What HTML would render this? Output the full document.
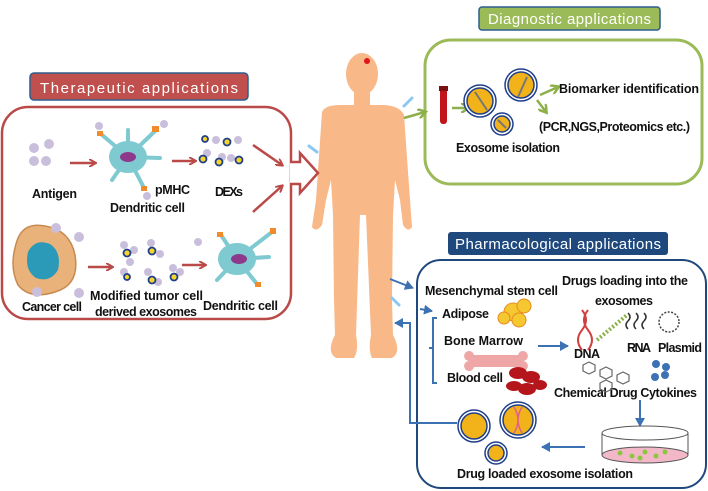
<!DOCTYPE html>
<html><head><meta charset="utf-8"><style>
html,body{margin:0;padding:0;background:#fff;}
svg{display:block;}
text{font-family:"Liberation Sans",sans-serif;}
.b{font-weight:bold;font-size:12.5px;fill:#111;}
.t{font-size:15px;fill:#fff;}
</style></head><body>
<svg width="708" height="491" viewBox="0 0 708 491" xmlns="http://www.w3.org/2000/svg">
<defs>
<marker id="ar" markerWidth="8" markerHeight="8" refX="6" refY="4" orient="auto" markerUnits="userSpaceOnUse"><path d="M0,0 L7,4 L0,8" fill="none" stroke="#b94a48" stroke-width="2"/></marker>
<marker id="ag" markerWidth="10" markerHeight="10" refX="7" refY="5" orient="auto" markerUnits="userSpaceOnUse"><path d="M0,0 L8,5 L0,10" fill="none" stroke="#8db04a" stroke-width="2.5"/></marker>
<marker id="ab" markerWidth="10" markerHeight="10" refX="8" refY="5" orient="auto" markerUnits="userSpaceOnUse"><path d="M0,0 L9,5 L0,10 Z" fill="#3c72b4"/></marker>
</defs>

<!-- human body -->
<g fill="#f8b888">
<ellipse cx="362" cy="74" rx="16" ry="21"/>
<rect x="354" y="88" width="16" height="20"/>
<path d="M322,112 Q325,105 340,105 L384,105 Q400,106 404,115 L410,200 Q411,215 412,227 Q408,233 403,225 L400,200 L395,180 L393,215 L392,300 L393,335 Q402,352 392,358 L372,358 Q368,350 371,335 L366,215 L360,215 L356,335 Q359,350 354,358 L336,358 Q326,352 335,335 L334,300 L333,215 L331,180 L326,200 L322,225 Q316,233 312,227 L316,200 Z"/>
</g>
<circle cx="367" cy="61" r="3" fill="#e0161b"/>
<!-- syringes -->
<g stroke="#8cc8ef" stroke-width="3" stroke-linecap="round"><line x1="404" y1="106" x2="412" y2="98"/><line x1="309" y1="146" x2="317" y2="152"/><line x1="392" y1="298" x2="399" y2="305"/></g>

<!-- Therapeutic -->
<rect x="30" y="73" width="218" height="27" rx="4" fill="#c0504d" stroke="#2e5d8e" stroke-width="1.5"/>
<text class="t" x="40" y="93" textLength="198">Therapeutic applications</text>
<rect x="2" y="107" width="289" height="212" rx="26" fill="#fff" stroke="#b94a48" stroke-width="2.5"/>
<path d="M290,162 L300,162 L300,153 L318,173 L300,193 L300,184 L290,184" fill="#fff" stroke="#b94a48" stroke-width="2.5"/>
<g fill="#c9bfdc"><circle cx="34" cy="148" r="5"/><circle cx="49" cy="144" r="5"/><circle cx="34" cy="161" r="5"/><circle cx="46" cy="161" r="5"/></g>
<g stroke="#b94a48" stroke-width="2.5" marker-end="url(#ar)"><line x1="70" y1="163" x2="95" y2="163"/><line x1="172" y1="161" x2="195" y2="161"/><line x1="253" y1="145" x2="282" y2="165"/><line x1="253" y1="212" x2="282" y2="186"/><line x1="88" y1="267" x2="112" y2="267"/><line x1="182" y1="265" x2="205" y2="265"/></g>
<g stroke="#7fcad0" stroke-width="4" stroke-linecap="round" fill="#7fcad0">
<line x1="128" y1="157" x2="101" y2="134"/><line x1="128" y1="157" x2="155" y2="131"/><line x1="128" y1="157" x2="143" y2="186"/><line x1="128" y1="157" x2="112" y2="180"/><line x1="128" y1="157" x2="160" y2="158"/><line x1="128" y1="157" x2="128" y2="130"/>
<ellipse cx="128" cy="157" rx="17" ry="14"/>
</g>
<ellipse cx="128" cy="157" rx="8" ry="5" fill="#8e3a8c"/>
<g fill="#f08c2c"><rect x="97" y="131" width="6" height="5"/><rect x="152" y="126" width="7" height="6"/><rect x="141" y="186" width="6" height="5"/></g>
<g fill="#c9bfdc"><circle cx="99" cy="126" r="4"/><circle cx="164" cy="124" r="4"/><circle cx="147" cy="196" r="4"/></g>
<g transform="translate(109,102)">
<g stroke="#7fcad0" stroke-width="4" stroke-linecap="round" fill="#7fcad0"><line x1="128" y1="157" x2="112" y2="133"/><line x1="128" y1="157" x2="163" y2="130"/><line x1="128" y1="157" x2="148" y2="182"/><line x1="128" y1="157" x2="108" y2="178"/><line x1="128" y1="157" x2="160" y2="155"/><ellipse cx="128" cy="157" rx="17" ry="14"/></g>
<ellipse cx="130" cy="157" rx="8" ry="5" fill="#8e3a8c"/>
<g fill="#f08c2c"><rect x="108" y="130" width="6" height="5"/><rect x="161" y="126" width="6" height="6"/><rect x="146" y="180" width="6" height="5"/></g>
</g>
<g fill="#c9bfdc"><circle cx="216" cy="140" r="4"/><circle cx="238" cy="140" r="4"/><circle cx="207" cy="153" r="4"/><circle cx="222" cy="157" r="4"/><circle cx="231" cy="158" r="4"/></g>
<g fill="#f6d52b" stroke="#1f3f8a" stroke-width="1.8"><circle cx="205" cy="139" r="3"/><circle cx="227" cy="142" r="3.5"/><circle cx="203" cy="159" r="3.5"/><circle cx="219" cy="162" r="3.5"/><circle cx="239" cy="160" r="3.5"/></g>
<path d="M18,238 Q25,222 45,226 Q70,230 75,255 Q80,285 55,292 Q30,300 18,285 Q8,265 18,238Z" fill="#e8b27a" stroke="#c88a4f" stroke-width="1.5"/>
<path d="M28,252 Q35,238 50,244 Q62,252 58,270 Q50,283 36,278 Q24,270 28,252Z" fill="#2a9ab8"/>
<g fill="#c9bfdc"><circle cx="56" cy="228" r="5"/><circle cx="79" cy="237" r="5"/><circle cx="37" cy="292" r="5"/><circle cx="79" cy="293" r="5"/></g>
<g fill="#c9bfdc"><circle cx="124" cy="245" r="4"/><circle cx="134" cy="250" r="4"/><circle cx="151" cy="243" r="4"/><circle cx="160" cy="254" r="4"/><circle cx="130" cy="262" r="4"/><circle cx="148" cy="272" r="4"/><circle cx="180" cy="272" r="4"/><circle cx="173" cy="268" r="4"/><circle cx="124" cy="272" r="4"/><circle cx="198" cy="242" r="4"/><circle cx="158" cy="282" r="4"/></g>
<g fill="#f6d52b" stroke="#1f3f8a" stroke-width="1.8"><circle cx="127" cy="253" r="3.5"/><circle cx="152" cy="251" r="3.5"/><circle cx="127" cy="277" r="3"/><circle cx="152" cy="280" r="3.5"/><circle cx="174" cy="277" r="3.5"/></g>
<text class="b" x="32" y="198" textLength="45">Antigen</text>
<text class="b" x="155" y="194" textLength="35">pMHC</text>
<text class="b" x="110" y="212" textLength="75">Dendritic cell</text>
<text class="b" x="215" y="196" textLength="28">DEXs</text>
<text class="b" x="90" y="300" textLength="113">Modified tumor cell</text>
<text class="b" x="95" y="316" textLength="102">derived exosomes</text>
<text class="b" x="22" y="311" textLength="60">Cancer cell</text>
<text class="b" x="203" y="310" textLength="75">Dendritic cell</text>

<!-- Diagnostic -->
<rect x="479" y="7" width="181" height="23" rx="3" fill="#9bbb59" stroke="#2e5d8e" stroke-width="1.5"/>
<text class="t" x="488" y="24" textLength="163">Diagnostic applications</text>
<rect x="425" y="40" width="277" height="144" rx="26" fill="#fff" stroke="#9bbb59" stroke-width="3"/>
<line x1="404" y1="118" x2="425" y2="112" stroke="#8db04a" stroke-width="2.5" marker-end="url(#ag)"/>
<rect x="440" y="86" width="7" height="38" rx="3" fill="#c0151b"/><rect x="439" y="86" width="9" height="5" fill="#7a1010"/>
<line x1="452" y1="108" x2="468" y2="108" stroke="#8db04a" stroke-width="2.5" marker-end="url(#ag)"/>
<g fill="#f2b21a" stroke="#1f3f8a" stroke-width="1.5"><circle cx="480" cy="101" r="16" fill="#fff"/><circle cx="480" cy="101" r="13"/><circle cx="521" cy="85" r="16" fill="#fff"/><circle cx="521" cy="85" r="13"/><circle cx="502" cy="124" r="11" fill="#fff"/><circle cx="502" cy="124" r="8"/></g>
<g stroke="#777" stroke-width="2"><line x1="475" y1="92" x2="487" y2="110"/><line x1="527" y1="77" x2="518" y2="97"/><line x1="498" y1="120" x2="506" y2="128"/></g>
<g stroke="#8db04a" stroke-width="2.5" marker-end="url(#ag)"><line x1="540" y1="95" x2="558" y2="87"/><line x1="537" y1="100" x2="546" y2="112"/></g>
<text class="b" x="559" y="93" textLength="140">Biomarker identification</text>
<text class="b" x="539" y="131" textLength="151">(PCR,NGS,Proteomics etc.)</text>
<text class="b" x="456" y="152" textLength="104">Exosome isolation</text>

<!-- Pharmacological -->
<rect x="448" y="232" width="220" height="23" rx="3" fill="#1f497d"/>
<text class="t" x="455" y="249" textLength="206">Pharmacological applications</text>
<rect x="417" y="260" width="289" height="228" rx="24" fill="#fff" stroke="#1f497d" stroke-width="2"/>
<g stroke="#3c72b4" stroke-width="2" fill="none">
<line x1="390" y1="279" x2="413" y2="288" marker-end="url(#ab)"/>
<line x1="420" y1="309" x2="432" y2="311" marker-end="url(#ab)"/>
<line x1="538" y1="346" x2="568" y2="346" marker-end="url(#ab)"/>
<line x1="640" y1="400" x2="640" y2="426" marker-end="url(#ab)"/>
<line x1="585" y1="447" x2="542" y2="447" marker-end="url(#ab)"/>
<polyline points="457,423 410,423 410,323 395,323" marker-end="url(#ab)"/>
<polyline points="437,318 433,318 433,383 437,383"/><line x1="429" y1="348" x2="433" y2="348"/>
</g>
<text class="b" x="425" y="295" textLength="133">Mesenchymal stem cell</text>
<text class="b" x="562" y="285" textLength="126">Drugs loading into the</text>
<text class="b" x="595" y="305" textLength="58">exosomes</text>
<text class="b" x="442" y="318" textLength="47">Adipose</text>
<text class="b" x="444" y="345" textLength="79">Bone Marrow</text>
<text class="b" x="447" y="382" textLength="56">Blood cell</text>
<text class="b" x="574" y="358" textLength="26">DNA</text>
<text class="b" x="627" y="352" textLength="24">RNA</text>
<text class="b" x="658" y="352" textLength="44">Plasmid</text>
<text class="b" x="554" y="397" textLength="143">Chemical Drug Cytokines</text>
<text class="b" x="457" y="478" textLength="176">Drug loaded exosome isolation</text>
<g fill="#f5c730" stroke="#e88a20"><circle cx="513" cy="312" r="9"/><circle cx="524" cy="306" r="7"/><circle cx="519" cy="320" r="7"/><circle cx="504" cy="318" r="6"/></g>
<path d="M474,355 h44 a5,5 0 1 1 5,6 a5,5 0 1 1 -5,6 h-44 a5,5 0 1 1 -5,-6 a5,5 0 1 1 5,-6z" fill="#eea6a6"/>
<g fill="#b5161b"><ellipse cx="518" cy="373" rx="9" ry="6"/><ellipse cx="531" cy="377" rx="9" ry="6"/><ellipse cx="514" cy="386" rx="8" ry="5"/><ellipse cx="527" cy="389" rx="9" ry="6"/><ellipse cx="540" cy="385" rx="7" ry="5"/></g>
<path d="M582,310 q8,10 0,20 q-8,10 0,20" fill="none" stroke="#d04040" stroke-width="2"/>
<path d="M588,310 q-8,10 0,20 q8,10 0,20" fill="none" stroke="#d04040" stroke-width="2"/>
<path d="M597,340 l30,-25" stroke="#8db04a" stroke-width="4" stroke-dasharray="2,2"/>
<path d="M628,313 q4,4 0,8 q-4,4 0,8 M636,313 q4,4 0,8 q-4,4 0,8 M644,313 q4,4 0,8 q-4,4 0,8" fill="none" stroke="#333" stroke-width="1.5"/>
<circle cx="669" cy="322" r="10" fill="none" stroke="#444" stroke-width="1.5" stroke-dasharray="2,1.5"/>
<g stroke="#666" stroke-width="1.2" fill="none"><polygon points="583,365 589,362 595,365 595,371 589,374 583,371"/><polygon points="600,370 606,367 612,370 612,376 606,379 600,376"/><polygon points="617,375 623,372 629,375 629,381 623,384 617,381"/><polygon points="600,383 606,380 612,383 612,389 606,392 600,389"/></g>
<g fill="#3c72b4"><circle cx="656" cy="364" r="4"/><circle cx="666" cy="367" r="4"/><circle cx="655" cy="377" r="4"/><circle cx="665" cy="375" r="4"/></g>
<ellipse cx="645" cy="455" rx="43" ry="8" fill="#f3b8c8" stroke="#555"/>
<path d="M602,433 v22 M688,433 v22" stroke="#555"/>
<ellipse cx="645" cy="433" rx="43" ry="7" fill="none" stroke="#555"/>
<g fill="#8cc63f"><circle cx="620" cy="453" r="2.5"/><circle cx="632" cy="456" r="2.5"/><circle cx="645" cy="452" r="2.5"/><circle cx="656" cy="456" r="2.5"/><circle cx="665" cy="452" r="2.5"/><circle cx="640" cy="458" r="2.5"/></g>
<g fill="#f2b21a" stroke="#1f3f8a" stroke-width="1.5"><circle cx="474" cy="426" r="16" fill="#fff"/><circle cx="474" cy="426" r="13"/><circle cx="518" cy="420" r="18" fill="#fff"/><circle cx="518" cy="420" r="15"/><circle cx="496" cy="453" r="11" fill="#fff"/><circle cx="496" cy="453" r="8"/></g>
<path d="M514,407 q8,13 0,26 M522,407 q-8,13 0,26" fill="none" stroke="#e0608a" stroke-width="1.5"/>
</svg>
</body></html>
